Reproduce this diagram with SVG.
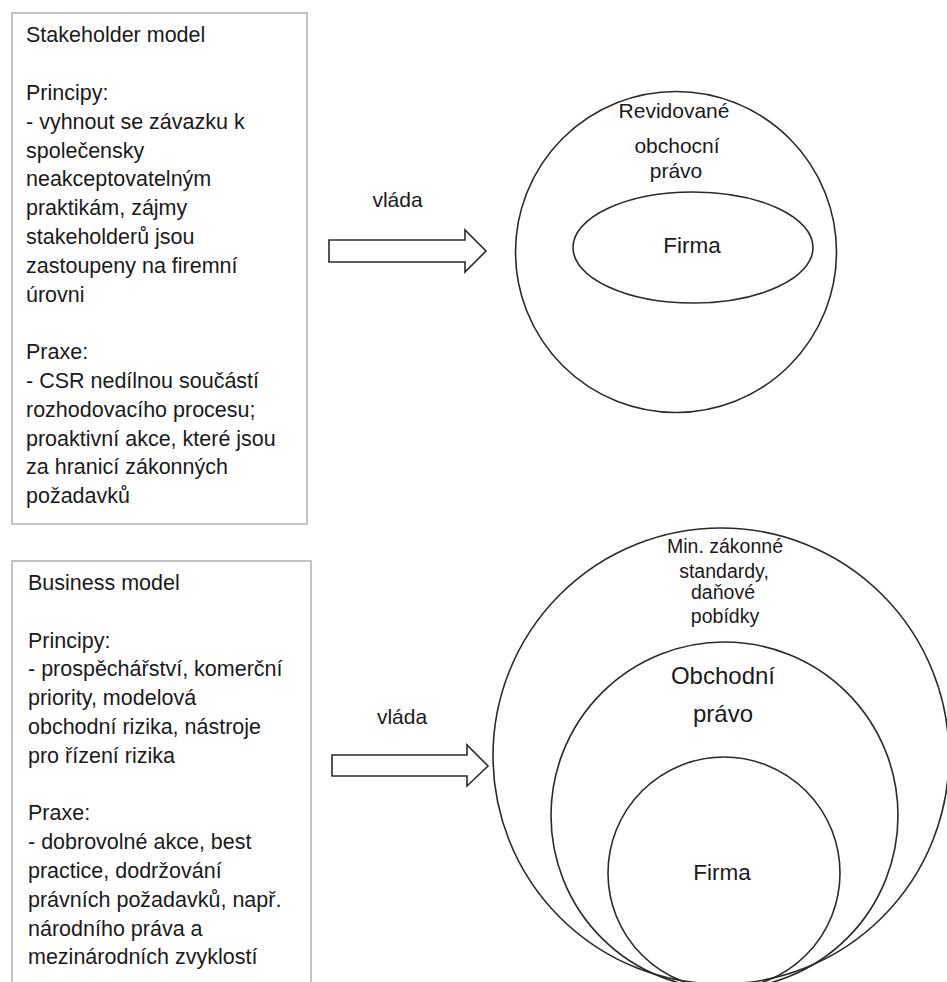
<svg xmlns="http://www.w3.org/2000/svg" width="947" height="982" viewBox="0 0 947 982">
<style>
  .box { fill: #ffffff; stroke: #b4b4b4; stroke-width: 1.6; }
  .ring { fill: none; stroke: #2a2a2a; stroke-width: 1.6; }
  .arrow { fill: #ffffff; stroke: #2a2a2a; stroke-width: 1.6; stroke-linejoin: miter; }
  text { font-family: "Liberation Sans", Arial, sans-serif; fill: #1a1a1a; }
  .body { font-size: 21.5px; }
  .lbl { font-size: 21px; text-anchor: middle; }
  .small { font-size: 19.5px; text-anchor: middle; }
  .big { font-size: 24px; text-anchor: middle; }
</style>
<rect width="947" height="982" fill="#ffffff"/>

<g id="stakeholder-box">
  <rect class="box" x="12" y="13" width="295" height="511"/>
  <text class="body" x="26" y="42.3">Stakeholder model</text>
  <text class="body" x="26" y="99.9">Principy:</text>
  <text class="body" x="26" y="128.7">- vyhnout se závazku k</text>
  <text class="body" x="26" y="157.5">společensky</text>
  <text class="body" x="26" y="186.3">neakceptovatelným</text>
  <text class="body" x="26" y="215.1">praktikám, zájmy</text>
  <text class="body" x="26" y="243.9">stakeholderů jsou</text>
  <text class="body" x="26" y="272.7">zastoupeny na firemní</text>
  <text class="body" x="26" y="301.5">úrovni</text>
  <text class="body" x="26" y="359.1">Praxe:</text>
  <text class="body" x="26" y="387.9">- CSR nedílnou součástí</text>
  <text class="body" x="26" y="416.7">rozhodovacího procesu;</text>
  <text class="body" x="26" y="445.5">proaktivní akce, které jsou</text>
  <text class="body" x="26" y="474.3">za hranicí zákonných</text>
  <text class="body" x="26" y="502.5">požadavků</text>
</g>

<g id="business-box">
  <rect class="box" x="12" y="561" width="299" height="440"/>
  <text class="body" x="28" y="590">Business model</text>
  <text class="body" x="28" y="647.6">Principy:</text>
  <text class="body" x="28" y="676.4">- prospěchářství, komerční</text>
  <text class="body" x="28" y="705.2">priority, modelová</text>
  <text class="body" x="28" y="734">obchodní rizika, nástroje</text>
  <text class="body" x="28" y="762.8">pro řízení rizika</text>
  <text class="body" x="28" y="820.4">Praxe:</text>
  <text class="body" x="28" y="849.2">- dobrovolné akce, best</text>
  <text class="body" x="28" y="878">practice, dodržování</text>
  <text class="body" x="28" y="906.8">právních požadavků, např.</text>
  <text class="body" x="28" y="935.6">národního práva a</text>
  <text class="body" x="28" y="964.4">mezinárodních zvyklostí</text>
</g>

<g id="top-circle">
  <circle class="ring" cx="676" cy="252" r="160.5"/>
  <text class="lbl" x="674" y="118">Revidované</text>
  <text class="lbl" x="677" y="153">obchocní</text>
  <text class="lbl" x="676" y="178">právo</text>
</g>

<g id="top-firma">
  <ellipse class="ring" cx="693" cy="247.5" rx="120" ry="55.5"/>
  <text class="lbl" x="692" y="253" style="font-size:22.5px">Firma</text>
</g>

<g id="bottom-outer">
  <circle class="ring" cx="721" cy="756" r="228"/>
  <text class="small" x="725" y="553">Min. zákonné</text>
  <text class="small" x="724" y="578">standardy,</text>
  <text class="small" x="723" y="599">daňové</text>
  <text class="small" x="725" y="623">pobídky</text>
</g>

<g id="bottom-middle">
  <circle class="ring" cx="724.5" cy="815.5" r="173.5"/>
  <text class="big" x="723" y="684">Obchodní</text>
  <text class="big" x="723" y="722">právo</text>
</g>

<g id="bottom-inner">
  <circle class="ring" cx="724" cy="873" r="116"/>
  <text class="lbl" x="722" y="880" style="font-size:22.5px">Firma</text>
</g>

<g id="connectors">
  <g id="arrow-top">
    <polygon class="arrow" points="329,240 465,240 465,230 486,251 465,272 465,262 329,262"/>
    <text class="lbl" x="397.5" y="207">vláda</text>
  </g>
  <g id="arrow-bottom">
    <polygon class="arrow" points="332,755 467,755 467,745 488,766 467,786 467,776 332,776"/>
    <text class="lbl" x="402" y="724">vláda</text>
  </g>
</g>
</svg>
